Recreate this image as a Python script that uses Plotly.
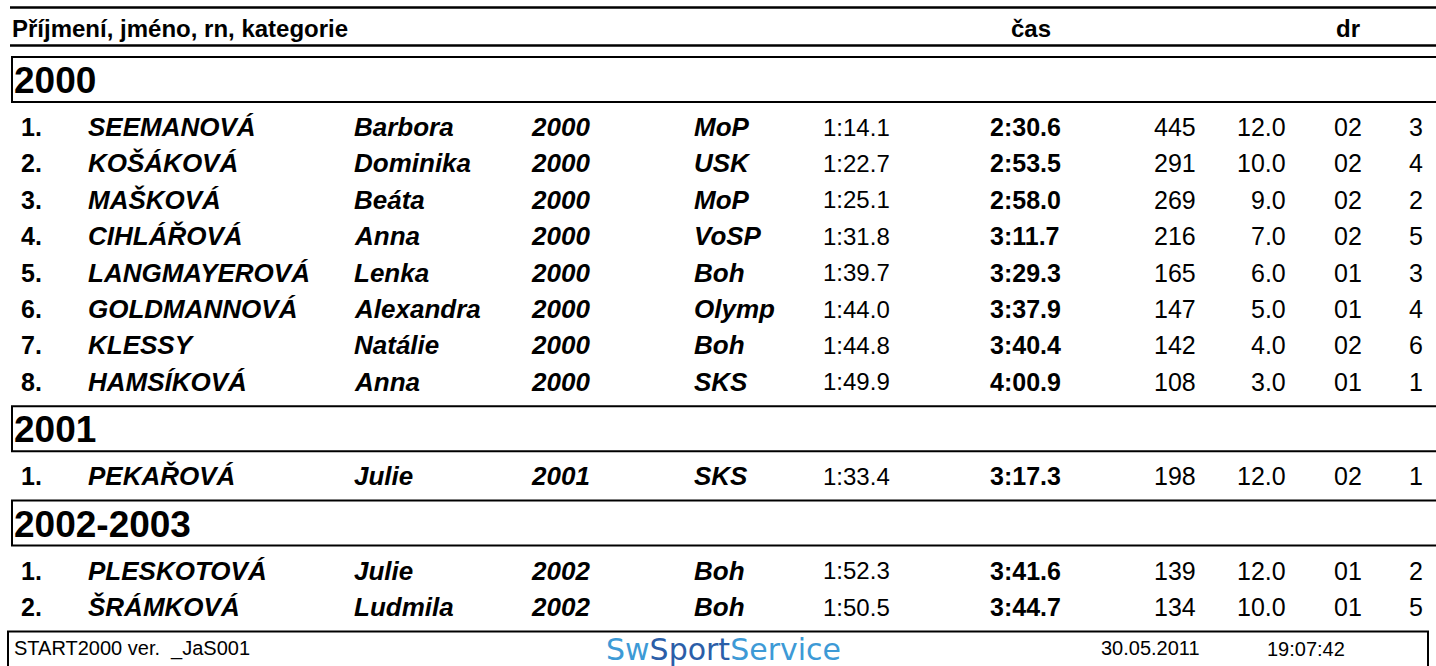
import plotly.graph_objects as go

# ---------------- data ----------------
groups = ["2000", "2001", "2002-2003"]
group_sizes = [8, 1, 2]

rank = ["1.", "2.", "3.", "4.", "5.", "6.", "7.", "8.", "1.", "1.", "2."]
surname = ["SEEMANOVÁ", "KOŠÁKOVÁ", "MAŠKOVÁ", "CIHLÁŘOVÁ", "LANGMAYEROVÁ",
           "GOLDMANNOVÁ", "KLESSY", "HAMSÍKOVÁ", "PEKAŘOVÁ", "PLESKOTOVÁ", "ŠRÁMKOVÁ"]
firstname = ["Barbora", "Dominika", "Beáta", "Anna", "Lenka", "Alexandra",
             "Natálie", "Anna", "Julie", "Julie", "Ludmila"]
birth_year = ["2000", "2000", "2000", "2000", "2000", "2000", "2000", "2000",
              "2001", "2002", "2002"]
club = ["MoP", "USK", "MoP", "VoSP", "Boh", "Olymp", "Boh", "SKS", "SKS", "Boh", "Boh"]
split = ["1:14.1", "1:22.7", "1:25.1", "1:31.8", "1:39.7", "1:44.0", "1:44.8",
         "1:49.9", "1:33.4", "1:52.3", "1:50.5"]
final_time = ["2:30.6", "2:53.5", "2:58.0", "3:11.7", "3:29.3", "3:37.9", "3:40.4",
              "4:00.9", "3:17.3", "3:41.6", "3:44.7"]
points = ["445", "291", "269", "216", "165", "147", "142", "108", "198", "139", "134"]
score = ["12.0", "10.0", "9.0", "7.0", "6.0", "5.0", "4.0", "3.0", "12.0", "12.0", "10.0"]
heat = ["02", "02", "02", "02", "01", "01", "02", "01", "02", "01", "01"]
lane = ["3", "4", "2", "5", "3", "4", "6", "1", "1", "2", "5"]

header_labels = ["Příjmení, jméno, rn, kategorie", "čas", "dr"]
footer_left = "START2000 ver.  _JaS001"
footer_date = "30.05.2011"
footer_clock = "19:07:42"
logo_parts = ["Sw", "Sport", "Service"]

# ---------------- layout constants ----------------
W, H = 1436, 666
FONT = "Liberation Sans, Arial, sans-serif"
ROW_SIZE = 25
box_h = 45
pitch = 36.4
gap = 13
text_off = 25

# column spec: (values, x, anchor, bold, italic, size)
columns = [
    (rank, 20, "left", True, False, 25),
    (surname, 87, "left", True, True, 26),
    (firstname, 353, "left", True, True, 26),
    (birth_year, 530, "left", True, True, 26),
    (club, 693, "left", True, True, 26),
    (split, 822, "left", False, False, 24),
    (final_time, 989, "left", True, False, 25),
    (points, 1197, "right", False, False, 25),
    (score, 1287, "right", False, False, 25),
    (heat, 1348, "center", False, False, 25),
    (lane, 1424, "right", False, False, 25),
]

fig = go.Figure()
fig.add_trace(go.Scatter(x=[0, W], y=[0, H], mode="markers",
                         marker=dict(opacity=0), hoverinfo="skip", showlegend=False))

shapes = []
annotations = []


def txt(x, y, s, anchor="left", size=ROW_SIZE, bold=False, italic=False, color="black", family=FONT):
    if italic:
        s = f"<i>{s}</i>"
    if bold:
        s = f"<b>{s}</b>"
    annotations.append(dict(x=x, y=y, xref="x", yref="y", text=s, showarrow=False,
                            xanchor=anchor, yanchor="middle",
                            font=dict(family=family, size=size, color=color),
                            borderpad=0))


# header lines and labels
for yl in (7.5, 45.5):
    shapes.append(dict(type="line", xref="x", yref="y", x0=10, x1=W + 5, y0=yl, y1=yl,
                       line=dict(color="black", width=2.5)))
txt(11, 28, header_labels[0], "left", 24, bold=True)
txt(1031, 28, header_labels[1], "center", 24, bold=True)
txt(1348, 28, header_labels[2], "center", 24, bold=True)

# groups and rows
cursor = 57
row_idx = 0
for g, n in zip(groups, group_sizes):
    top, bottom = cursor, cursor + box_h
    shapes.append(dict(type="rect", xref="x", yref="y", x0=12, x1=W + 10, y0=top, y1=bottom,
                       line=dict(color="black", width=2)))
    txt(13, (top + bottom) / 2 + 1, g, "left", 37, bold=True)
    for i in range(n):
        yc = bottom + text_off + i * pitch
        for vals, x, anchor, bold, italic, size in columns:
            txt(x, yc, vals[row_idx], anchor, size, bold=bold, italic=italic)
        row_idx += 1
    cursor = bottom + n * pitch + gap

# footer
ftop = cursor
shapes.append(dict(type="rect", xref="x", yref="y", x0=8, x1=1428, y0=ftop, y1=H + 20,
                   line=dict(color="black", width=2)))
txt(13, ftop + 17, footer_left, "left", 20)
txt(1150, ftop + 17, footer_date, "center", 20)
txt(1306, ftop + 18, footer_clock, "center", 20)
logo = (f"<span style='color:#3d9ad6'>{logo_parts[0]}</span>"
        f"<span style='color:#2b5ea8'>{logo_parts[1]}</span>"
        f"<span style='color:#3d9ad6'>{logo_parts[2]}</span>")
txt(723, ftop + 18, logo, "center", 30, family="DejaVu Sans, sans-serif")

fig.update_layout(
    width=W, height=H, margin=dict(l=0, r=0, t=0, b=0),
    paper_bgcolor="white", plot_bgcolor="white",
    xaxis=dict(range=[0, W], visible=False, fixedrange=True),
    yaxis=dict(range=[H, 0], visible=False, fixedrange=True),
    shapes=shapes, annotations=annotations, showlegend=False,
)
fig.write_html("out.html", config={"displayModeBar": False},
               post_script="document.body.style.margin='0';document.body.style.overflow='hidden';")
